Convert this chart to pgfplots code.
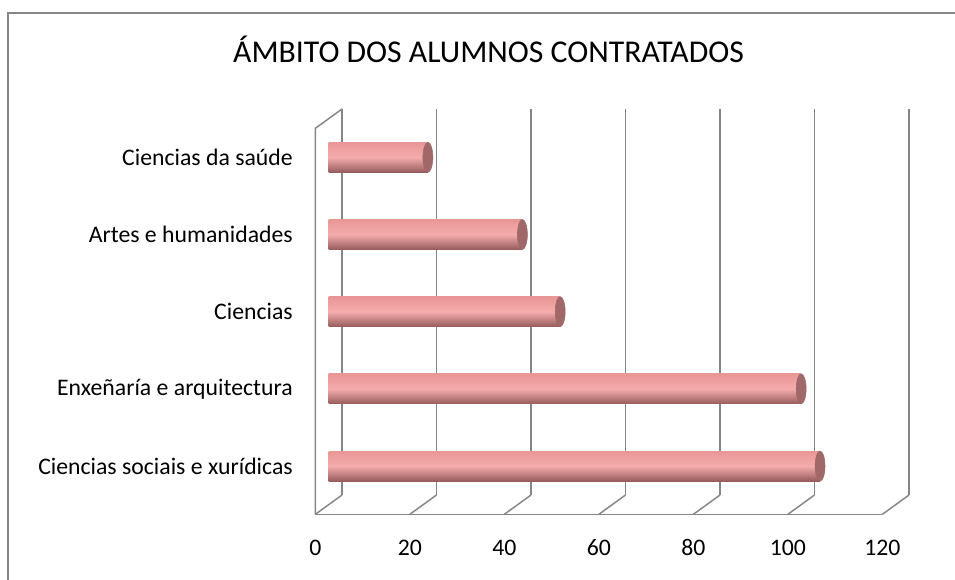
\documentclass[border=0pt]{standalone}
\usepackage{pgfplots}
\pgfplotsset{compat=1.18}
\usepackage{fontspec}
\setmainfont{Carlito}
\definecolor{gridc}{RGB}{134,134,134}
\definecolor{pinkT}{RGB}{232,150,150}
\definecolor{pinkM}{RGB}{245,172,172}
\definecolor{pinkB}{RGB}{150,92,92}
\definecolor{capc}{RGB}{160,104,104}
\pgfplotsset{
  cyl/.style={xbar, bar width=22.5pt, bar shift=0pt, draw=none,
    top color=pinkT, bottom color=pinkB, middle color=pinkM,
    xshift=-10pt, yshift=-7.25pt},
}
\begin{document}
\begin{tikzpicture}
\useasboundingbox (-256.5pt,-63pt) rectangle (459.75pt,371.25pt);
% chart border
\draw[gridc, line width=1pt] (-250.5pt,-70pt) -- (-250.5pt,361.5pt) -- (470pt,361.5pt);
\node[font=\fontsize{23.8}{28}\selectfont] at (109.9pt,334.5pt) {ÁMBITO DOS ALUMNOS CONTRATADOS};
\begin{axis}[
    at={(0,0)}, anchor=south west,
    width=425.25pt, height=289.5pt, scale only axis,
    xmin=0, xmax=120, ymin=0.5, ymax=5.5,
    clip=false,
    axis line style={draw=none},
    xtick={0,20,...,120}, ytick={1,2,3,4,5},
    yticklabels={Ciencias sociais e xurídicas, Enxeñaría e arquitectura, Ciencias, Artes e humanidades, Ciencias da saúde},
    tick style={draw=none},
    /pgf/number format/assume math mode=true,
    xmajorgrids, grid style={gridc, line width=1.1pt},
    ticklabel style={font=\fontsize{17.8}{21}\selectfont},
    xticklabel style={anchor=base, inner sep=0pt, xshift=-20pt, yshift=-45.5pt},
    yticklabel style={anchor=east, inner sep=0pt, xshift=-36.75pt, yshift=-7.25pt},
]
% floor and left wall
\draw[gridc, line width=1.1pt] ([shift={(-20pt,-14.5pt)}]axis cs:0,0.5) -- ([shift={(-20pt,-14.5pt)}]axis cs:120,0.5);
\draw[gridc, line width=1.1pt] ([shift={(-20pt,-14.5pt)}]axis cs:0,0.5) -- ([shift={(-20pt,-14.5pt)}]axis cs:0,5.5) -- (axis cs:0,5.5);
\pgfplotsinvokeforeach{0,20,...,120}{
  \draw[gridc, line width=1.1pt] (axis cs:#1,0.5) -- ([shift={(-20pt,-14.5pt)}]axis cs:#1,0.5);
}
\addplot[cyl] coordinates {(104,1)};
\addplot[cyl] coordinates {(100,2)};
\addplot[cyl] coordinates {(49,3)};
\addplot[cyl] coordinates {(41,4)};
\addplot[cyl] coordinates {(21,5)};
\addplot[only marks, mark=*, mark size=11.25pt,
    mark options={xscale=0.33, fill=capc, draw=capc},
    xshift=-10pt, yshift=-7.25pt]
  coordinates {(104,1) (100,2) (49,3) (41,4) (21,5)};
\end{axis}
\end{tikzpicture}
\end{document}
